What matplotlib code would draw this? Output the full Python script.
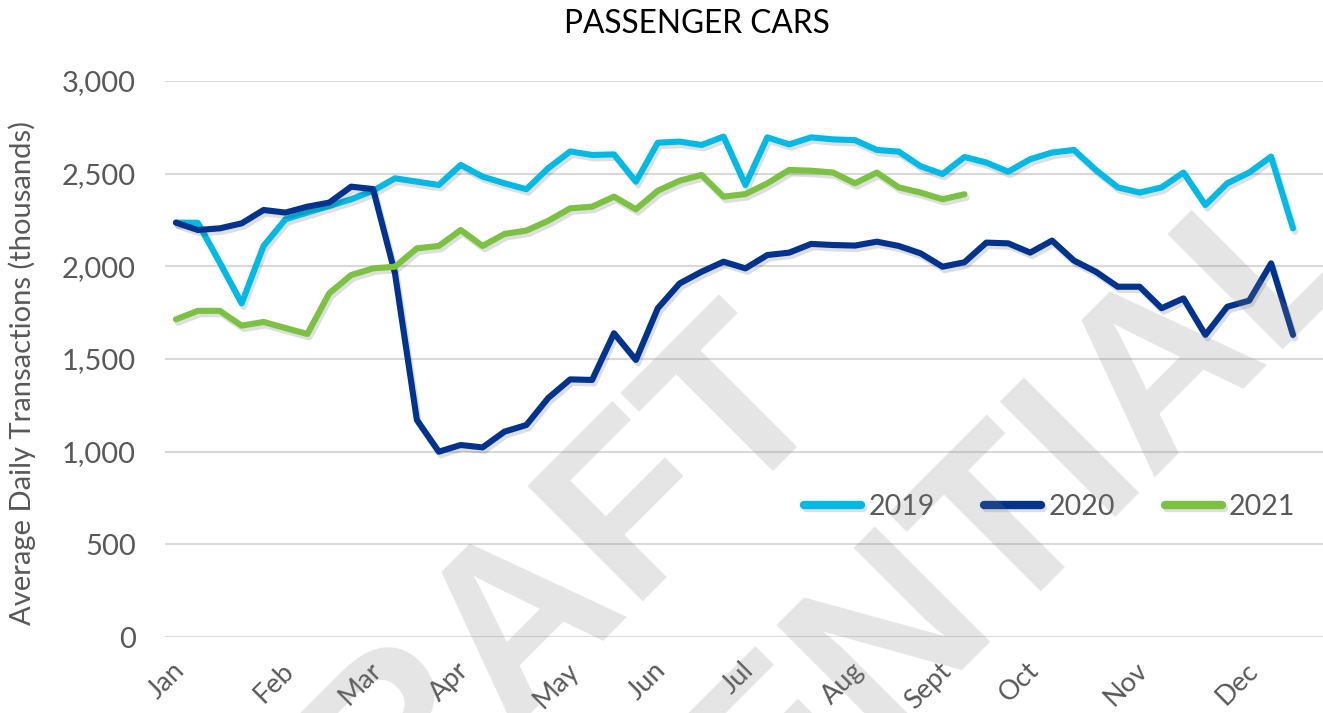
import matplotlib
matplotlib.use('Agg')
import matplotlib.pyplot as plt
import matplotlib.patheffects as pe
from matplotlib.textpath import TextPath
from matplotlib.font_manager import FontProperties
from matplotlib.patches import PathPatch
from matplotlib.transforms import Affine2D
import numpy as np

# ---------------- data ----------------
title = "PASSENGER CARS"
ylabel = "Average Daily Transactions (thousands)"
series_names = ["2019", "2020", "2021"]

v2019 = [2236, 2235, 2020, 1800, 2110, 2254, 2290, 2326, 2362, 2408,
         2475, 2457, 2439, 2547, 2484, 2448, 2416, 2530, 2620, 2601,
         2604, 2457, 2667, 2673, 2655, 2700, 2439, 2696, 2658, 2696,
         2685, 2681, 2628, 2619, 2540, 2498, 2590, 2560, 2511, 2578,
         2614, 2628, 2520, 2426, 2398, 2426, 2506, 2331, 2448, 2506,
         2592, 2205]
v2020 = [2236, 2196, 2205, 2232, 2304, 2290, 2322, 2344, 2430, 2417,
         1962, 1171, 1000, 1036, 1023, 1108, 1144, 1290, 1390, 1387,
         1639, 1495, 1774, 1908, 1971, 2025, 1989, 2061, 2074, 2121,
         2115, 2112, 2133, 2110, 2070, 1998, 2022, 2128, 2124, 2074,
         2139, 2031, 1971, 1890, 1890, 1774, 1827, 1630, 1782, 1815,
         2016, 1630]
v2021 = [1714, 1760, 1760, 1680, 1700, 1667, 1635, 1855, 1953, 1989,
         1998, 2097, 2110, 2196, 2110, 2175, 2193, 2246, 2313, 2322,
         2376, 2308, 2408, 2462, 2493, 2376, 2390, 2448, 2520, 2516,
         2506, 2448, 2506, 2426, 2398, 2362, 2389]

month_labels = ["Jan", "Feb", "Mar", "Apr", "May", "Jun", "Jul", "Aug",
                "Sept", "Oct", "Nov", "Dec"]
month_week = [0, 5, 9, 13, 18, 22, 26, 31, 35, 39, 44, 49]
yticks = [0, 500, 1000, 1500, 2000, 2500, 3000]

colors = ["#00BAE5", "#00338D", "#7CC242"]

# ---------------- figure ----------------
W, H = 1323, 713
plt.rcParams['font.family'] = ['Lato', 'DejaVu Sans']
fig = plt.figure(figsize=(W / 100, H / 100), dpi=100)
ax = fig.add_axes([165 / W, (H - 637) / H, (W - 165) / W, (637 - 81) / H])

grey = "#595959"
for name, vals, c in zip(series_names, [v2019, v2020, v2021], colors):
    x = np.arange(len(vals))
    ax.plot(x, vals, color=c, lw=4.4, label=name,
            solid_joinstyle='round', solid_capstyle='round', zorder=3,
            path_effects=[pe.SimpleLineShadow(offset=(1.5, -2.5), shadow_color='k', alpha=0.13),
                          pe.Normal()])

ax.set_xlim(-0.5, 52.37)
ax.set_ylim(0, 3000)
ax.set_yticks(yticks)
ax.set_yticklabels([f"{v:,}" for v in yticks])
ax.yaxis.grid(True, color="#d9d9d9", lw=1.5, zorder=0)
ax.set_axisbelow(True)
for s in ax.spines.values():
    s.set_visible(False)
ax.tick_params(axis='y', length=0, pad=21, labelsize=21, labelcolor=grey)

ax.set_xticks([w - 0.2 for w in month_week])
ax.set_xticklabels(month_labels, rotation=45, ha='right', va='top',
                   rotation_mode='anchor')
ax.tick_params(axis='x', length=0, pad=15, labelsize=19.5, labelcolor=grey)

fig.text(697 / W, 1 - 24 / H, title, ha='center', va='center', fontsize=22.8, color='black')
fig.text(22 / W, 1 - 373 / H, ylabel, ha='center', va='center', rotation=90,
         fontsize=21, color=grey)

leg = ax.legend(loc='center', bbox_to_anchor=(0.764, 0.234), ncol=3, frameon=True,
                fontsize=20.5, handlelength=2.0, handletextpad=0.25, columnspacing=1.75,
                borderpad=0.8)
leg.get_frame().set_facecolor('white')
leg.get_frame().set_alpha(0.6)
leg.get_frame().set_edgecolor('none')
for t in leg.get_texts():
    t.set_color(grey)
for h in leg.get_lines():
    h.set_linewidth(6)
    h.set_solid_capstyle('round')

# ---------------- watermark ----------------
wprop = FontProperties(family='Liberation Sans', weight='bold')


def watermark(text, cx, cy_down, size):
    tp = TextPath((0, 0), text, size=size, prop=wprop)
    ext = tp.get_extents()
    tr = (Affine2D().translate(-(ext.x0 + ext.x1) / 2, 0).rotate_deg(45)
          .translate(cx, H - cy_down).scale(1 / W, 1 / H) + fig.transFigure)
    patch = PathPatch(tp, transform=tr, facecolor='#808080', edgecolor='none',
                      alpha=0.2, zorder=10)
    fig.add_artist(patch)


watermark("DRAFT", 557, 687, 237)
watermark("CONFIDENTIAL", 751, 881, 237)

fig.savefig("out.png", dpi=100)
